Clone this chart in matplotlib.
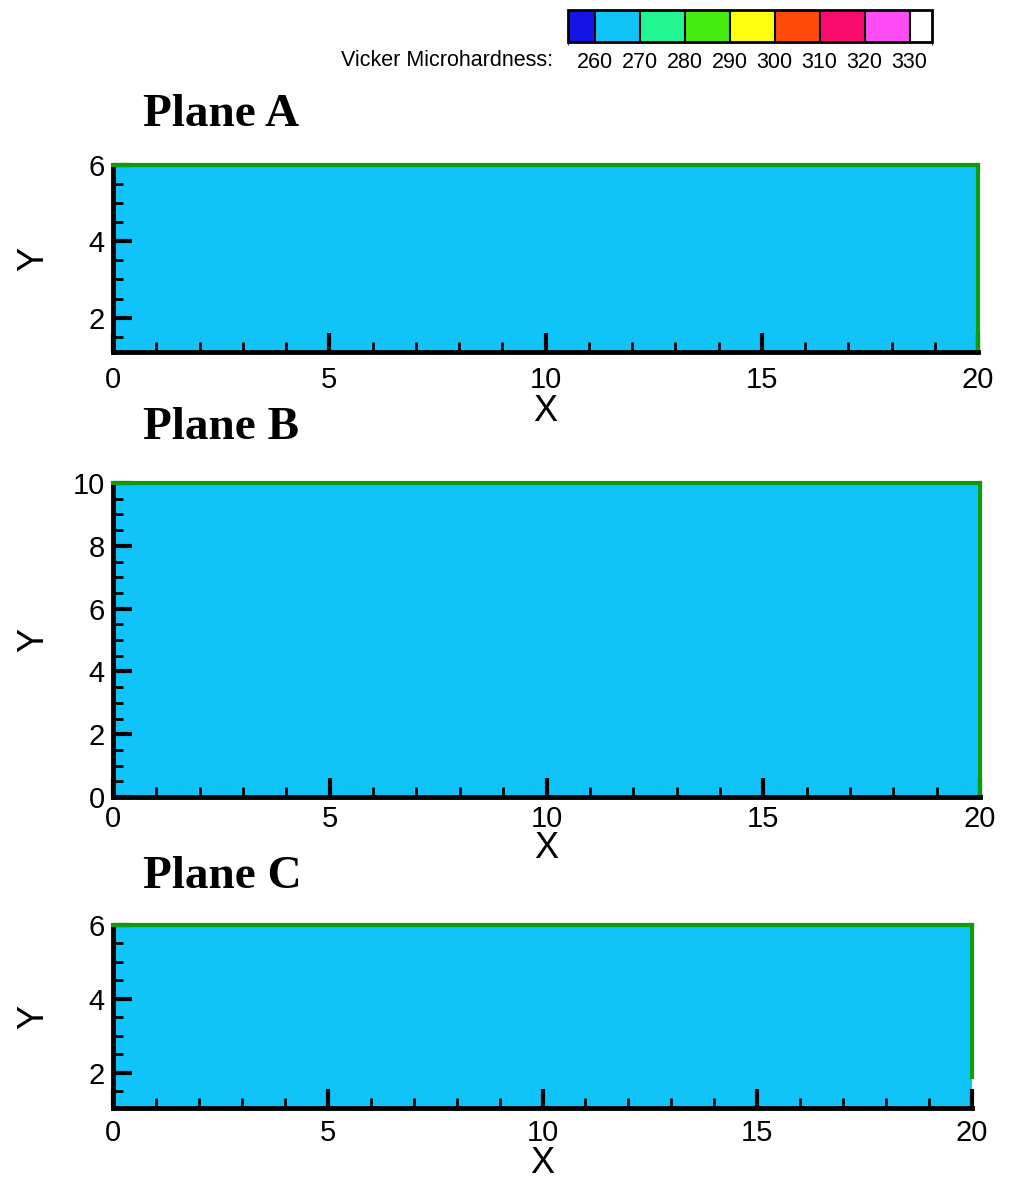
import matplotlib
matplotlib.use("Agg")
import matplotlib.pyplot as plt
import numpy as np
from matplotlib.colors import ListedColormap, BoundaryNorm
import matplotlib.colorbar as mcolorbar
from matplotlib.ticker import MultipleLocator

# ---- data ----
level_bounds = [254, 260, 270, 280, 290, 300, 310, 320, 330, 335]
level_labels = [260, 270, 280, 290, 300, 310, 320, 330]
level_colors = ["#1414E6", "#10C4FA", "#22F792", "#45EE10", "#FFFF10",
                "#FF4A0A", "#F80A6E", "#FF4CF4", "#FFFFFF"]

x_edges = [0, 5, 10, 15, 20]

planeA_y = [1.1, 3.5, 6.0]
planeA_hv = [[266, 266, 266, 266],
             [267, 266, 266, 266]]

planeB_y = [0.0, 5.0, 10.0]
planeB_hv = [[266, 266, 266, 266],
             [266, 266, 266, 266]]

planeC_y = [1.05, 3.5, 6.0]
planeC_hv = [[266, 266, 266, 266],
             [267, 266, 266, 266]]

titles = ["Plane A", "Plane B", "Plane C"]

# ---- figure ----
W, H = 1024, 1190
fig = plt.figure(figsize=(W / 100, H / 100), dpi=100)

cmap = ListedColormap(level_colors)
norm = BoundaryNorm(level_bounds, cmap.N)

sans = "Liberation Sans"
serif = "Liberation Serif"
edge_green = "#0E9A0E"

def px_axes(l, r, t, b):
    return [l / W, 1 - b / H, (r - l) / W, (b - t) / H]

specs = [
    ((113, 978, 165, 352), planeA_y, planeA_hv, (1.1, 6.0), [2, 4, 6], None, 115, 10, 0),
    ((113, 980, 483, 797), planeB_y, planeB_hv, (0.0, 10.0), [0, 2, 4, 6, 8, 10], None, 428, 6, -2),
    ((113, 972, 925, 1108), planeC_y, planeC_hv, (1.05, 6.0), [2, 4, 6], (1.9, 6.0), 877, 8, -1),
]

for (px, yv, hv, ylim, yticks, rbounds, title_y, xpad, xlpad), title in zip(specs, titles):
    l, r, t, b = px
    ax = fig.add_axes(px_axes(l, r, t, b))
    ax.pcolormesh(x_edges, yv, np.array(hv), cmap=cmap, norm=norm, shading="flat")
    ax.set_xlim(0, 20)
    ax.set_ylim(*ylim)
    ax.set_xticks([0, 5, 10, 15, 20])
    ax.set_yticks(yticks)
    ax.xaxis.set_minor_locator(MultipleLocator(1))
    ax.yaxis.set_minor_locator(MultipleLocator(0.5))
    ax.tick_params(which="major", direction="in", length=14, width=3,
                   color="black", labelsize=21, pad=6, top=False, right=False)
    ax.tick_params(axis="x", which="major", pad=xpad)
    ax.tick_params(which="minor", direction="in", length=7, width=2,
                   color="black", top=False, right=False)
    for lab in ax.get_xticklabels() + ax.get_yticklabels():
        lab.set_fontfamily(sans)
    for s in ["left", "bottom"]:
        ax.spines[s].set_linewidth(3.5)
        ax.spines[s].set_color("black")
    for s in ["top", "right"]:
        ax.spines[s].set_linewidth(3)
        ax.spines[s].set_color(edge_green)
    if rbounds is not None:
        ax.spines["right"].set_bounds(*rbounds)
    ax.set_xlabel("X", fontsize=26, family=sans, labelpad=xlpad)
    ax.set_ylabel("Y", fontsize=26, family=sans)
    ax.yaxis.set_label_coords((51 - l) / (r - l), 0.5)
    fig.text(143 / W, 1 - title_y / H, title, fontsize=34, family=serif,
             fontweight="bold", ha="left", va="center")

# ---- legend colour bar ----
cax = fig.add_axes(px_axes(568, 932, 10, 42))
cb = mcolorbar.ColorbarBase(cax, cmap=cmap, norm=norm, boundaries=level_bounds,
                            spacing="proportional", orientation="horizontal",
                            ticks=level_labels, drawedges=True)
cb.outline.set_linewidth(2)
cb.outline.set_edgecolor("black")
cb.dividers.set_color("black")
cb.dividers.set_linewidth(1.5)
cax.tick_params(length=0, labelsize=15.5, pad=7)
for lab in cax.get_xticklabels():
    lab.set_fontfamily(sans)
fig.text(553 / W, 1 - 60 / H, "Vicker Microhardness:", fontsize=15.5,
         family=sans, ha="right", va="center")

fig.savefig("out.png", dpi=100)
